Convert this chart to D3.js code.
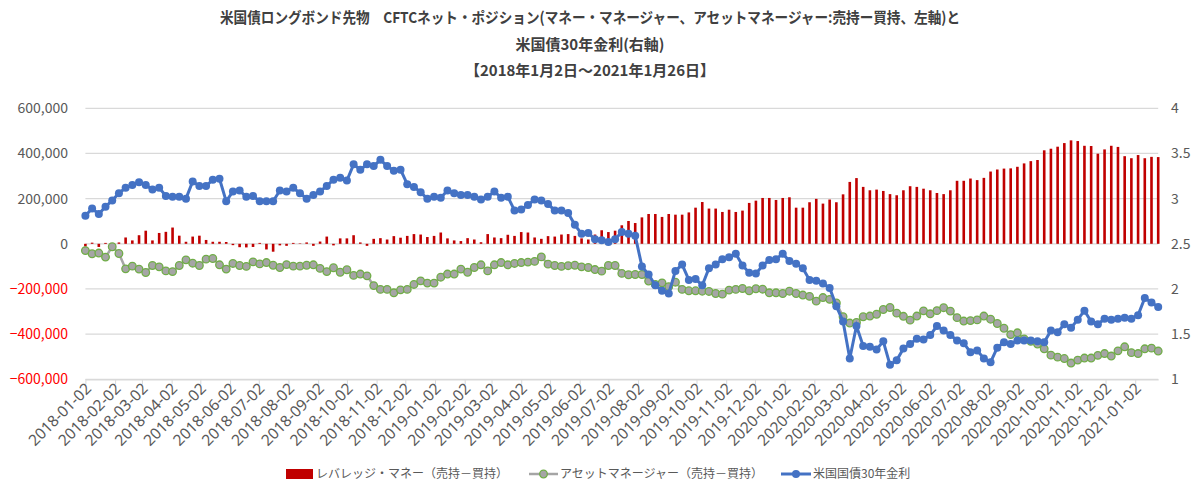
<!DOCTYPE html>
<html>
<head>
<meta charset="utf-8">
<script src="https://cdn.jsdelivr.net/npm/d3@7"></script>
<style>
  body { margin: 0; background: #fff; }
  text { font-family: "Noto Sans CJK JP", "Noto Sans", sans-serif; }
</style>
</head>
<body>
<div id="chart-container"></div>
<script>
// weekly CFTC dates (Tuesdays) 2018-01-02 .. 2021-01-26
const startDate = Date.UTC(2018, 0, 2);
const endDate = Date.UTC(2021, 0, 26);

const titleLines = [
    "米国債ロングボンド先物　CFTCネット・ポジション(マネー・マネージャー、アセットマネージャー:売持ー買持、左軸)と",
    "米国債30年金利(右軸)",
    "【2018年1月2日～2021年1月26日】"
];

const seriesNames = ["レバレッジ・マネー（売持－買持）", "アセットマネージャー（売持－買持）", "米国国債30年金利"];

const leftTicks = [-600000, -400000, -200000, 0, 200000, 400000, 600000];
const rightTicks = [1, 1.5, 2, 2.5, 3, 3.5, 4];

// leveraged money, thousands of contracts
const leveraged = [
    -12, 5, -14, 4, -3, 6, 28, 15, 38, 58, 15, 48, 53, 72, 36, 9, 32, 36, 17, 9, 9, 8, -6, -15, -16, -14, 4,
    -25, -35, -7, -9, 4, 2, 6, -9, 10, 32, -7, 24, 24, 38, 6, -9, 22, 25, 19, 34, 27, 35, 43, 41, 30, 35, 50,
    24, 15, 12, 25, 19, 7, 43, 28, 25, 40, 35, 52, 50, 28, 22, 34, 32, 41, 43, 35, 24, 19, 41, 60, 52, 58, 82,
    101, 92, 117, 132, 132, 119, 132, 129, 129, 139, 160, 185, 156, 156, 141, 151, 141, 147, 181, 191, 203, 203, 194, 203, 206, 160, 160,
    184, 199, 178, 196, 184, 219, 274, 291, 252, 237, 240, 234, 220, 215, 237, 255, 252, 244, 237, 225, 220, 237, 279, 279, 289, 282, 292,
    320, 329, 333, 334, 341, 356, 366, 371, 414, 421, 430, 446, 458, 455, 434, 433, 399, 418, 434, 429, 388, 379, 393, 379, 385, 384
];

// asset managers, thousands of contracts
const assetMgr = [
    -30, -44, -41, -59, -13, -43, -111, -99, -112, -127, -96, -102, -120, -123, -96, -71, -86, -96, -68, -65, -93, -112, -87, -96, -100, -80, -89,
    -83, -95, -105, -92, -99, -99, -95, -93, -109, -123, -106, -126, -115, -140, -134, -142, -185, -202, -202, -217, -204, -202, -180, -164, -174, -174, -148,
    -134, -134, -112, -126, -105, -93, -120, -93, -83, -93, -87, -83, -81, -78, -58, -90, -96, -100, -97, -95, -102, -105, -114, -121, -96, -96, -131,
    -137, -136, -136, -165, -180, -173, -190, -170, -202, -208, -208, -210, -211, -220, -223, -205, -202, -198, -208, -199, -201, -217, -217, -220, -210, -220, -227,
    -233, -254, -238, -246, -262, -323, -351, -348, -323, -320, -312, -291, -282, -307, -321, -338, -320, -297, -310, -296, -283, -298, -327, -342, -340, -337, -320,
    -334, -353, -374, -402, -394, -421, -432, -444, -465, -493, -502, -508, -528, -515, -506, -506, -494, -486, -497, -474, -456, -482, -486, -465, -462, -475
];

// US 30y treasury yield, %
const yield30 = [
    2.81, 2.89, 2.83, 2.91, 2.98, 3.06, 3.12, 3.15, 3.18, 3.15, 3.10, 3.12, 3.03, 3.02, 3.02, 3.00, 3.19, 3.14, 3.14, 3.21, 3.22, 2.97, 3.08, 3.09, 3.02, 3.03, 2.97,
    2.97, 2.97, 3.09, 3.08, 3.12, 3.06, 3.00, 3.04, 3.08, 3.14, 3.21, 3.23, 3.20, 3.38, 3.32, 3.38, 3.36, 3.43, 3.36, 3.31, 3.32, 3.16, 3.13, 3.07, 3.00, 3.02, 3.01,
    3.09, 3.06, 3.04, 3.04, 3.02, 2.99, 3.02, 3.08, 3.01, 3.02, 2.87, 2.88, 2.93, 2.99, 2.98, 2.94, 2.87, 2.87, 2.84, 2.71, 2.61, 2.62, 2.55, 2.54, 2.52, 2.55, 2.63,
    2.61, 2.59, 2.25, 2.16, 2.04, 1.98, 1.95, 2.20, 2.27, 2.10, 2.11, 2.04, 2.23, 2.27, 2.33, 2.35, 2.39, 2.26, 2.18, 2.17, 2.26, 2.32, 2.33, 2.39, 2.31, 2.28, 2.23,
    2.10, 2.09, 2.06, 2.01, 1.81, 1.64, 1.23, 1.59, 1.37, 1.36, 1.33, 1.42, 1.16, 1.21, 1.34, 1.39, 1.45, 1.44, 1.49, 1.59, 1.54, 1.49, 1.43, 1.40, 1.30, 1.32, 1.23,
    1.19, 1.35, 1.41, 1.39, 1.43, 1.43, 1.43, 1.42, 1.41, 1.54, 1.52, 1.61, 1.57, 1.66, 1.76, 1.64, 1.61, 1.67, 1.66, 1.67, 1.68, 1.67, 1.71, 1.90, 1.85, 1.80
];

const dates = d3.utcTuesday.range(startDate, endDate + 1);
const data = dates.map((d, i) => ({
    date: d,
    lev: leveraged[i] * 1000,
    am: assetMgr[i] * 1000,
    yld: yield30[i]
}));
console.log(dates.length, leveraged.length, assetMgr.length, yield30.length);

const W = 1200, H = 497;
const plot = {left: 85.4, right: 1158.2, top: 108.3, bottom: 379.3};
const gray = "#595959";

const svg = d3.select("#chart-container")
    .append("svg")
    .attr("width", W)
    .attr("height", H);

const x = d3.scaleUtc()
    .domain([startDate, endDate])
    .range([plot.left, plot.right]);

const yL = d3.scaleLinear()
    .domain([-600000, 600000])
    .range([plot.bottom, plot.top]);

const yR = d3.scaleLinear()
    .domain([1, 4])
    .range([plot.bottom, plot.top]);

// title
svg.append("g")
    .selectAll("text")
    .data(titleLines)
    .enter()
    .append("text")
    .attr("x", 590)
    .attr("y", (d, i) => 23 + i * 26.5)
    .attr("text-anchor", "middle")
    .style("font-size", "15px")
    .style("font-weight", "bold")
    .style("fill", "#404040")
    .text(d => d)
    .each(function(d, i) {
        if (i === 0) d3.select(this).attr("textLength", 740).attr("lengthAdjust", "spacingAndGlyphs");
    });

// gridlines
svg.append("g")
    .selectAll("line")
    .data(leftTicks)
    .enter()
    .append("line")
    .attr("x1", plot.left)
    .attr("x2", plot.right)
    .attr("y1", d => yL(d))
    .attr("y2", d => yL(d))
    .attr("stroke", "#d9d9d9")
    .attr("stroke-width", 1.2);

// left axis labels
svg.append("g")
    .selectAll("text")
    .data(leftTicks)
    .enter()
    .append("text")
    .attr("x", 68)
    .attr("y", d => yL(d))
    .attr("dy", "0.35em")
    .attr("text-anchor", "end")
    .style("font-size", "14px")
    .style("fill", d => d < 0 ? "#ff0000" : gray)
    .text(d => d3.format(",")(d));

// right axis labels
svg.append("g")
    .selectAll("text")
    .data(rightTicks)
    .enter()
    .append("text")
    .attr("x", 1171)
    .attr("y", d => yR(d))
    .attr("dy", "0.35em")
    .style("font-size", "14px")
    .style("fill", gray)
    .text(d => d);

// x axis, monthly ticks on the 2nd
const monthTicks = d3.utcMonth.range(Date.UTC(2018, 0, 1), Date.UTC(2021, 1, 1)).map(d => d3.utcDay.offset(d, 1));

const xAxis = svg.append("g")
    .attr("transform", `translate(0, ${plot.bottom})`)
    .call(d3.axisBottom(x).tickValues(monthTicks).tickFormat(d3.utcFormat("%Y-%m-%d")).tickSize(5).tickSizeOuter(0));

xAxis.select(".domain").attr("stroke", "#d9d9d9").attr("stroke-width", 1.2);
xAxis.selectAll(".tick line").attr("stroke", "#d9d9d9");
xAxis.selectAll(".tick text")
    .attr("text-anchor", "end")
    .attr("transform", "translate(3, 7) rotate(-45)")
    .attr("dy", "0.3em")
    .attr("dx", 0)
    .attr("y", 0)
    .style("font-size", "15.5px")
    .style("font-family", "'Noto Sans', sans-serif")
    .style("fill", gray);

// bars - leveraged money
svg.append("g")
    .selectAll("rect")
    .data(data)
    .enter()
    .append("rect")
    .attr("x", d => x(d.date) - 1.3)
    .attr("width", 2.6)
    .attr("y", d => yL(Math.max(0, d.lev)))
    .attr("height", d => Math.abs(yL(d.lev) - yL(0)))
    .attr("fill", "#c00000");

// asset managers
const lineAm = d3.line()
    .x(d => x(d.date))
    .y(d => yL(d.am));

svg.append("path")
    .datum(data)
    .attr("d", lineAm)
    .attr("fill", "none")
    .attr("stroke", "#a5a5a5")
    .attr("stroke-width", 2.5);

svg.append("g")
    .selectAll("circle")
    .data(data)
    .enter()
    .append("circle")
    .attr("cx", d => x(d.date))
    .attr("cy", d => yL(d.am))
    .attr("r", 3.8)
    .attr("fill", "#a5a5a5")
    .attr("stroke", "#70ad47")
    .attr("stroke-width", 1.3);

// 30y yield on right axis
const lineY = d3.line()
    .x(d => x(d.date))
    .y(d => yR(d.yld));

svg.append("path")
    .datum(data)
    .attr("d", lineY)
    .attr("fill", "none")
    .attr("stroke", "#4472c4")
    .attr("stroke-width", 3);

svg.append("g")
    .selectAll("circle")
    .data(data)
    .enter()
    .append("circle")
    .attr("cx", d => x(d.date))
    .attr("cy", d => yR(d.yld))
    .attr("r", 4)
    .attr("fill", "#4472c4");

// legend
const legend = svg.append("g").attr("transform", "translate(0, 474)");

legend.append("rect")
    .attr("x", 286).attr("y", -5).attr("width", 27).attr("height", 10)
    .attr("fill", "#c00000");
legend.append("text")
    .attr("x", 316).attr("y", 0).attr("dy", "0.35em")
    .style("font-size", "12px").style("fill", gray)
    .text(seriesNames[0]);

legend.append("line")
    .attr("x1", 529).attr("x2", 558).attr("y1", 0).attr("y2", 0)
    .attr("stroke", "#a5a5a5").attr("stroke-width", 2.5);
legend.append("circle")
    .attr("cx", 543.5).attr("cy", 0).attr("r", 3.8)
    .attr("fill", "#a5a5a5").attr("stroke", "#70ad47").attr("stroke-width", 1.3);
legend.append("text")
    .attr("x", 560).attr("y", 0).attr("dy", "0.35em")
    .style("font-size", "12px").style("fill", gray)
    .text(seriesNames[1]);

legend.append("line")
    .attr("x1", 781).attr("x2", 811).attr("y1", 0).attr("y2", 0)
    .attr("stroke", "#4472c4").attr("stroke-width", 3);
legend.append("circle")
    .attr("cx", 796).attr("cy", 0).attr("r", 4)
    .attr("fill", "#4472c4");
legend.append("text")
    .attr("x", 813).attr("y", 0).attr("dy", "0.35em")
    .style("font-size", "12px").style("fill", gray)
    .text(seriesNames[2]);
</script>
</body>
</html>
